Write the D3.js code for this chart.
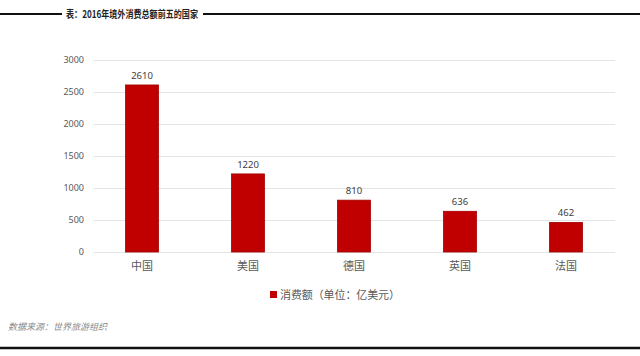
<!DOCTYPE html>
<html><head><meta charset="utf-8">
<script src="https://cdn.jsdelivr.net/npm/d3@7"></script>
<style>
html,body{margin:0;padding:0;background:#fff;}
text{font-family:"Noto Sans CJK SC","Microsoft YaHei",sans-serif;}
</style></head>
<body><svg id="c" width="640" height="356"></svg>
<script>
const categories = ["中国","美国","德国","英国","法国"];
const values = [2610,1220,810,636,462];
const yTicks = [0,500,1000,1500,2000,2500,3000];
const title = "表：2016年境外消费总额前五的国家";
const seriesName = "消费额（单位：亿美元）";
const source = "数据来源：世界旅游组织";

const svg = d3.select("#c");
const x = d3.scaleBand().domain(categories).range([89,619]).paddingInner(0.69).paddingOuter(0.345);
const y = d3.scaleLinear().domain([0,3000]).range([252,60]);

// title with lines
svg.append("line").attr("x1",0).attr("x2",62).attr("y1",14).attr("y2",14).attr("stroke","#111").attr("stroke-width",2.2);
svg.append("line").attr("x1",203).attr("x2",640).attr("y1",14).attr("y2",14).attr("stroke","#111").attr("stroke-width",2.2);
svg.append("text").attr("x",66).attr("y",18).attr("font-size",10).attr("font-weight","bold").attr("fill","#222")
  .attr("textLength",132).attr("lengthAdjust","spacingAndGlyphs").text(title);

// gridlines
svg.append("g").selectAll("line").data(yTicks).join("line")
  .attr("x1",93).attr("x2",615).attr("y1",d=>y(d)+0.5).attr("y2",d=>y(d)+0.5)
  .attr("stroke","#e4e4e4").attr("stroke-width",1);

// y axis labels
const yAxis = d3.axisLeft(y).tickValues(yTicks).tickFormat(d3.format("d")).tickSize(0).tickPadding(0);
const yg = svg.append("g").attr("transform","translate(84,0)").call(yAxis);
yg.select(".domain").remove();
yg.selectAll("text").attr("font-size",9).attr("fill","#595959").style("font-family","'Noto Sans','Liberation Sans',sans-serif");

// bars
svg.append("g").selectAll("rect").data(values).join("rect")
  .attr("x",(d,i)=>x(categories[i])).attr("width",x.bandwidth())
  .attr("y",d=>y(d)).attr("height",d=>y(0)-y(d))
  .attr("fill","#c00000").attr("stroke","#a30000").attr("stroke-width",0.8);

// value labels
svg.append("g").selectAll("text").data(values).join("text")
  .attr("x",(d,i)=>x(categories[i])+x.bandwidth()/2).attr("y",d=>y(d)-6)
  .attr("text-anchor","middle").attr("font-size",9.5).attr("fill","#404040")
  .style("font-family","'Noto Sans','Liberation Sans',sans-serif").text(d=>d);

// x axis labels
const xAxis = d3.axisBottom(x).tickSize(0).tickPadding(0);
const xg = svg.append("g").attr("transform","translate(0,262)").call(xAxis);
xg.select(".domain").remove();
xg.selectAll("text").attr("font-size",11).attr("fill","#595959").attr("dy","0.71em");

// legend
svg.append("rect").attr("x",270).attr("y",291).attr("width",7).attr("height",7).attr("fill","#c00000");
svg.append("text").attr("x",280).attr("y",299).attr("font-size",11).attr("fill","#595959")
  .attr("textLength",120).attr("lengthAdjust","spacing").text(seriesName);

// source
svg.append("text").attr("x",8).attr("y",330).attr("font-size",9).attr("font-style","italic").attr("fill","#8a8a8a").text(source);

// bottom line
svg.append("line").attr("x1",0).attr("x2",640).attr("y1",348).attr("y2",348).attr("stroke","#111").attr("stroke-width",2.5);
</script></body></html>
